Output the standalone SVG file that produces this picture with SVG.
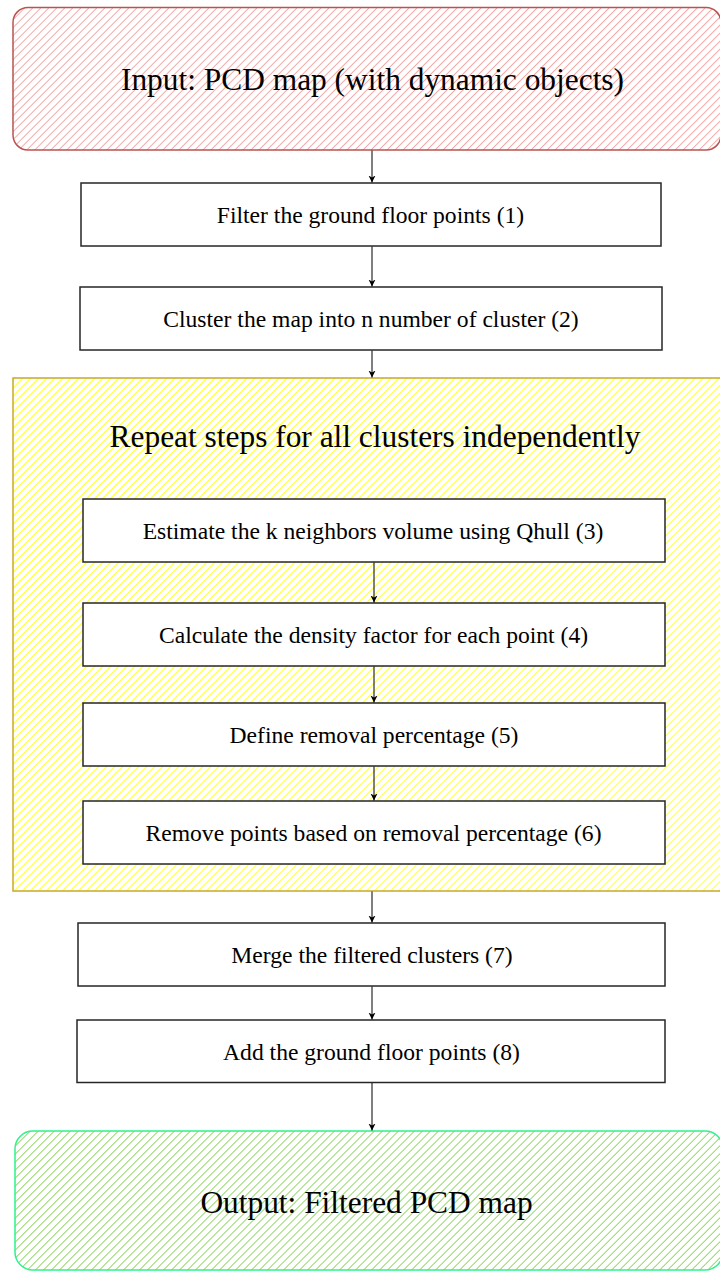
<svg xmlns="http://www.w3.org/2000/svg" width="720" height="1271" viewBox="0 0 720 1271">
<style>
.box{fill:#ffffff;stroke:#262626;stroke-width:1.5}
.t{font-family:"Liberation Serif","Times New Roman",serif;fill:#000;text-anchor:middle}
.s{font-size:23.6px}
.big{font-size:31.4px}
.conn{stroke:#000;stroke-width:1;fill:none;marker-end:url(#arr)}
</style>
<defs>
<pattern id="hr" patternUnits="userSpaceOnUse" width="5.66" height="5.66" patternTransform="rotate(45)"><rect width="5.66" height="5.66" fill="#fff"/><line x1="0.5" y1="0" x2="0.5" y2="5.66" stroke="#f4a3a3" stroke-width="0.9"/></pattern>
<pattern id="hy" patternUnits="userSpaceOnUse" width="5.66" height="5.66" patternTransform="rotate(45)"><rect width="5.66" height="5.66" fill="#fff"/><line x1="0.5" y1="0" x2="0.5" y2="5.66" stroke="#ffff3a" stroke-width="1"/></pattern>
<pattern id="hg" patternUnits="userSpaceOnUse" width="5.66" height="5.66" patternTransform="rotate(45)"><rect width="5.66" height="5.66" fill="#fff"/><line x1="0.5" y1="0" x2="0.5" y2="5.66" stroke="#8ad35a" stroke-width="0.9"/></pattern>
<marker id="arr" markerWidth="8" markerHeight="8" refX="7" refY="4" orient="auto" markerUnits="userSpaceOnUse"><path d="M0,0.5 L7,4 L0,7.5 L2,4 Z" fill="#000"/></marker>
</defs>

<g id="input">
<rect x="13" y="7.5" width="708" height="142.5" rx="15" ry="15" fill="url(#hr)" stroke="#b85450" stroke-width="1.5"/>
<text class="t big" x="372.5" y="90">Input: PCD map (with dynamic objects)</text>
</g>

<g id="step1">
<rect class="box" x="81" y="183" width="580" height="63"/>
<text class="t s" x="370.5" y="223">Filter the ground floor points (1)</text>
</g>

<g id="step2">
<rect class="box" x="80" y="287" width="582" height="63"/>
<text class="t s" x="371" y="327">Cluster the map into n number of cluster (2)</text>
</g>

<g id="repeat">
<rect x="13" y="378" width="712" height="513" fill="url(#hy)" stroke="#c9a92c" stroke-width="1.5"/>
<text class="t big" x="375" y="447">Repeat steps for all clusters independently</text>
</g>

<g id="step3">
<rect class="box" x="83" y="499" width="582" height="63"/>
<text class="t s" x="373" y="539">Estimate the k neighbors volume using Qhull (3)</text>
</g>

<g id="step4">
<rect class="box" x="83" y="603" width="582" height="63"/>
<text class="t s" x="373.5" y="643">Calculate the density factor for each point (4)</text>
</g>

<g id="step5">
<rect class="box" x="83" y="703" width="582" height="63"/>
<text class="t s" x="374" y="743">Define removal percentage (5)</text>
</g>

<g id="step6">
<rect class="box" x="83" y="801" width="582" height="63"/>
<text class="t s" x="373.5" y="841">Remove points based on removal percentage (6)</text>
</g>

<g id="step7">
<rect class="box" x="78" y="923" width="587" height="63"/>
<text class="t s" x="372" y="963">Merge the filtered clusters (7)</text>
</g>

<g id="step8">
<rect class="box" x="77" y="1020" width="588" height="62.5"/>
<text class="t s" x="371.5" y="1060">Add the ground floor points (8)</text>
</g>

<g id="output">
<rect x="15" y="1131" width="708" height="139" rx="18" ry="18" fill="url(#hg)" stroke="#2ef28e" stroke-width="1.5"/>
<text class="t big" x="366.5" y="1213">Output: Filtered PCD map</text>
</g>

<g id="connectors">
<line class="conn" x1="372" y1="150.5" x2="372" y2="182.5"/>
<line class="conn" x1="372" y1="246.5" x2="372" y2="286.5"/>
<line class="conn" x1="372" y1="350.5" x2="372" y2="377.5"/>
<line class="conn" x1="374" y1="562.5" x2="374" y2="602.5"/>
<line class="conn" x1="374" y1="666.5" x2="374" y2="702.5"/>
<line class="conn" x1="374" y1="766.5" x2="374" y2="800.5"/>
<line class="conn" x1="372" y1="891.5" x2="372" y2="922.5"/>
<line class="conn" x1="372" y1="986.5" x2="372" y2="1019.5"/>
<line class="conn" x1="372" y1="1083" x2="372" y2="1130.5"/>
</g>
</svg>
